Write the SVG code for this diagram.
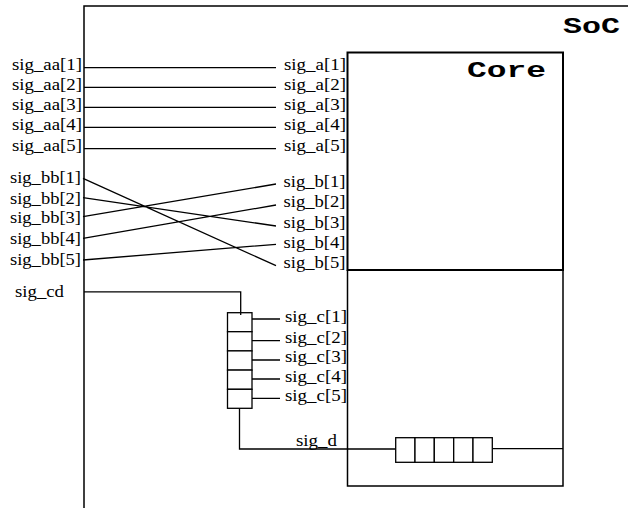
<svg xmlns="http://www.w3.org/2000/svg" width="628" height="508" viewBox="0 0 628 508">
<style>
.ln{stroke:#000;stroke-width:1.3;fill:none}
.bx{stroke:#000;stroke-width:1.5;fill:none}
.cell{stroke:#000;stroke-width:1.3;fill:#fff}
.lb{font-family:"Liberation Serif","Times New Roman",serif;font-size:16.5px;fill:#000}
.tt{font-family:"Liberation Mono","Courier New",monospace;font-weight:bold;font-size:22px;fill:#000}
</style>
<rect width="628" height="508" fill="#fff"/>
<g id="soc">
<path class="bx" d="M84,509 V6 H629"/>
<text class="tt" x="563" y="33" textLength="57" lengthAdjust="spacingAndGlyphs">SoC</text>
</g>
<g id="core">
<rect x="347.5" y="52.5" width="215.5" height="217.5" fill="none" stroke="#000" stroke-width="2"/>
<path class="bx" d="M347.5,270 V486 H563 V270"/>
<text class="tt" x="467" y="77" textLength="79" lengthAdjust="spacingAndGlyphs">Core</text>
</g>
<g id="connectors">
<path class="ln" d="M84,67.7 H276 M84,87.3 H276 M84,107.3 H276 M84,127.3 H276 M84,148.7 H276"/>
<path class="ln" d="M83,178.3 L276,265.7 M83,197.7 L276,226 M83,216.7 L276,184 M83,238.3 L276,205 M83,260 L276,244.3"/>
<path class="ln" d="M84,291.8 H240.7 V315"/>
<path class="ln" d="M252,319 H280 M252,340.7 H280 M252,360 H280 M252,379 H280 M252,398.3 H280"/>
<path class="ln" d="M239.5,408.3 V449 H395.7"/>
<path class="ln" d="M492.3,448.7 H563"/>
</g>
<g id="reg_c">
<rect class="cell" x="227.5" y="312.7" width="24.5" height="19"/>
<rect class="cell" x="227.5" y="331.7" width="24.5" height="19.2"/>
<rect class="cell" x="227.5" y="350.9" width="24.5" height="19.2"/>
<rect class="cell" x="227.5" y="370.1" width="24.5" height="19.2"/>
<rect class="cell" x="227.5" y="389.3" width="24.5" height="19"/>
<path class="ln" d="M240.7,312.7 V315"/>
</g>
<g id="reg_d">
<rect class="cell" x="395.7" y="437.7" width="19.3" height="24.6"/>
<rect class="cell" x="415" y="437.7" width="19.3" height="24.6"/>
<rect class="cell" x="434.3" y="437.7" width="19.4" height="24.6"/>
<rect class="cell" x="453.7" y="437.7" width="19.3" height="24.6"/>
<rect class="cell" x="473" y="437.7" width="19.3" height="24.6"/>
</g>
<g id="labels_left">
<text class="lb" x="12" y="69.5" textLength="70" lengthAdjust="spacingAndGlyphs">sig_aa[1]</text>
<text class="lb" x="12" y="89.5" textLength="70" lengthAdjust="spacingAndGlyphs">sig_aa[2]</text>
<text class="lb" x="12" y="109.5" textLength="70" lengthAdjust="spacingAndGlyphs">sig_aa[3]</text>
<text class="lb" x="12" y="129.5" textLength="70" lengthAdjust="spacingAndGlyphs">sig_aa[4]</text>
<text class="lb" x="12" y="150.7" textLength="70" lengthAdjust="spacingAndGlyphs">sig_aa[5]</text>
<text class="lb" x="10" y="183" textLength="71" lengthAdjust="spacingAndGlyphs">sig_bb[1]</text>
<text class="lb" x="10" y="203.5" textLength="71" lengthAdjust="spacingAndGlyphs">sig_bb[2]</text>
<text class="lb" x="10" y="223" textLength="71" lengthAdjust="spacingAndGlyphs">sig_bb[3]</text>
<text class="lb" x="10" y="244" textLength="71" lengthAdjust="spacingAndGlyphs">sig_bb[4]</text>
<text class="lb" x="10" y="264.5" textLength="71" lengthAdjust="spacingAndGlyphs">sig_bb[5]</text>
<text class="lb" x="15" y="297" textLength="49" lengthAdjust="spacingAndGlyphs">sig_cd</text>
</g>
<g id="labels_right">
<text class="lb" x="284" y="69.5" textLength="62" lengthAdjust="spacingAndGlyphs">sig_a[1]</text>
<text class="lb" x="284" y="89.5" textLength="62" lengthAdjust="spacingAndGlyphs">sig_a[2]</text>
<text class="lb" x="284" y="109.5" textLength="62" lengthAdjust="spacingAndGlyphs">sig_a[3]</text>
<text class="lb" x="284" y="129.5" textLength="62" lengthAdjust="spacingAndGlyphs">sig_a[4]</text>
<text class="lb" x="284" y="150.7" textLength="62" lengthAdjust="spacingAndGlyphs">sig_a[5]</text>
<text class="lb" x="283.5" y="186.5" textLength="62" lengthAdjust="spacingAndGlyphs">sig_b[1]</text>
<text class="lb" x="283.5" y="207" textLength="62" lengthAdjust="spacingAndGlyphs">sig_b[2]</text>
<text class="lb" x="283.5" y="227.5" textLength="62" lengthAdjust="spacingAndGlyphs">sig_b[3]</text>
<text class="lb" x="283.5" y="248" textLength="62" lengthAdjust="spacingAndGlyphs">sig_b[4]</text>
<text class="lb" x="283.5" y="268" textLength="62" lengthAdjust="spacingAndGlyphs">sig_b[5]</text>
<text class="lb" x="285" y="322" textLength="62" lengthAdjust="spacingAndGlyphs">sig_c[1]</text>
<text class="lb" x="285" y="342.5" textLength="62" lengthAdjust="spacingAndGlyphs">sig_c[2]</text>
<text class="lb" x="285" y="362" textLength="62" lengthAdjust="spacingAndGlyphs">sig_c[3]</text>
<text class="lb" x="285" y="381.5" textLength="62" lengthAdjust="spacingAndGlyphs">sig_c[4]</text>
<text class="lb" x="285" y="401" textLength="62" lengthAdjust="spacingAndGlyphs">sig_c[5]</text>
<text class="lb" x="296" y="446" textLength="41" lengthAdjust="spacingAndGlyphs">sig_d</text>
</g>
</svg>
